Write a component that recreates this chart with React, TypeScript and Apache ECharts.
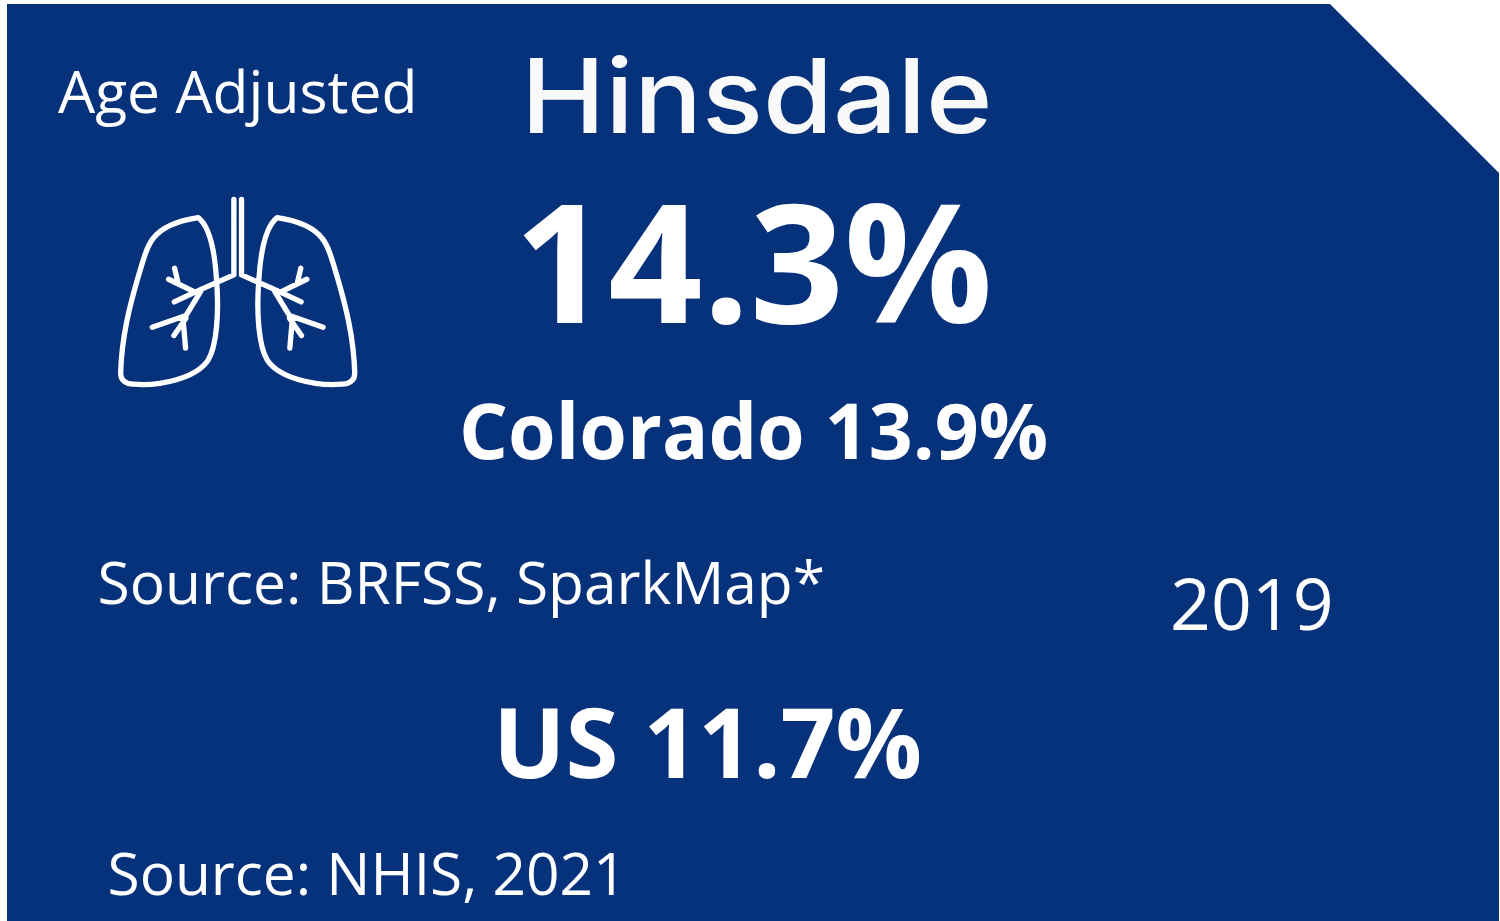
import React, { useEffect, useRef } from "react";
import * as echarts from "echarts";

const labelAge = "Age Adjusted";
const labelPlace = "Hinsdale";
const valueLocal = "14.3%";
const valueState = "Colorado 13.9%";
const sourceState = "Source: BRFSS, SparkMap*";
const yearLabel = "2019";
const valueUS = "US 11.7%";
const sourceUS = "Source: NHIS, 2021";

const lungs =
  "M295,113 C250,120 190,135 160,175 C140,200 130,240 115,290 C90,375 65,470 62,580 C62,600 75,612 100,613 C180,620 290,595 325,540 C350,500 358,400 350,300 C345,220 330,140 295,113 Z " +
  "M532,113 C577,120 637,135 667,175 C687,200 697,240 712,290 C737,375 762,470 765,580 C765,600 752,612 727,613 C647,620 537,595 502,540 C477,500 469,400 477,300 C482,220 497,140 532,113 Z " +
  "M402,58 L402,285 L300,330 L223,366 M206,298 L282,335 M224,265 L235,312 M302,335 L258,407 L157,442 M258,415 L222,467 M250,425 L257,505 " +
  "M425,58 L425,285 L527,330 L604,366 M621,298 L545,335 M603,265 L592,312 M525,335 L569,407 L670,442 M569,415 L605,467 M577,425 L570,505";

echarts.graphic.registerShape("lungs", echarts.graphic.extendPath(lungs as any, {}) as any);

const txt = (text: string, x: number, baseline: number, size: number, weight: any = 400, family = "Open Sans") => ({
  type: "text",
  x,
  y: baseline - 0.885 * size,
  style: { text, fill: "#ffffff", font: `${weight} ${size}px "${family}"`, textAlign: "left" },
});

export default function App() {
  const ref = useRef<HTMLDivElement>(null);
  useEffect(() => {
    document.body.style.margin = "0";
    const chart = echarts.init(ref.current!, null, { renderer: "svg" });
    const place: any = txt(labelPlace, 521, 135, 103, 500, "Inter");
    place.scaleX = 1.1;
    place.style.fill = "#f9f9f9";
    chart.setOption({
      animation: false,
      backgroundColor: "#ffffff",
      graphic: [
        {
          type: "polygon",
          shape: { points: [[7, 4], [1330, 4], [1499, 173], [1499, 921], [7, 921]] },
          style: { fill: "#06317b" },
        },
        {
          type: "lungs",
          x: 100,
          y: 180,
          scaleX: 1 / 3,
          scaleY: 1 / 3,
          style: { fill: "none", stroke: "#ffffff", lineWidth: 16, lineCap: "round", lineJoin: "round" },
        },
        txt(labelAge, 58, 113, 58.8),
        place,
        txt(valueLocal, 514, 323, 165, 700),
        txt(valueState, 459, 459, 77, 700),
        txt(sourceState, 97.5, 603, 58.7),
        txt(yearLabel, 1170, 630, 71.5),
        txt(valueUS, 493, 777.5, 96, 700),
        txt(sourceUS, 107.5, 894, 58.6),
      ],
    });
    return () => chart.dispose();
  }, []);
  return <div ref={ref} style={{ width: 1500, height: 921 }} />;
}
